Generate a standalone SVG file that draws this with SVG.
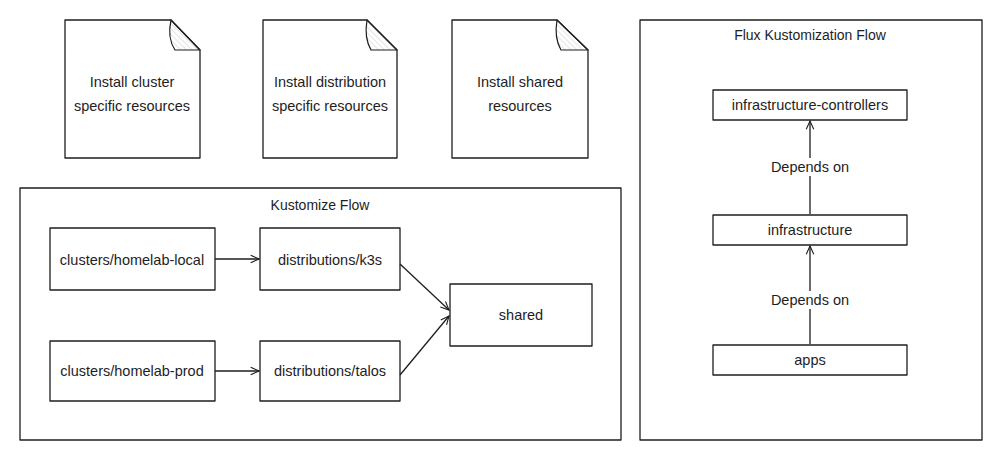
<svg xmlns="http://www.w3.org/2000/svg" width="1001" height="461" viewBox="0 0 1001 461">
<defs>
<pattern id="hatch" width="4" height="4" patternUnits="userSpaceOnUse" patternTransform="rotate(-45)">
<line x1="0" y1="0" x2="0" y2="4" stroke="#bbbbbb" stroke-width="0.8"/>
</pattern>
<marker id="arr" viewBox="0 0 12 12" refX="11" refY="6" markerWidth="10" markerHeight="10" orient="auto" markerUnits="userSpaceOnUse">
<path d="M1,1.5 L11,6 L1,10.5" fill="none" stroke="#1e1e1e" stroke-width="1.3"/>
</marker>
<style>
.s{fill:#ffffff;stroke:#1e1e1e;stroke-width:1.3;stroke-linejoin:round}
.f{fill:url(#hatch);stroke:#1e1e1e;stroke-width:1.2;stroke-linejoin:round}
.c{fill:none;stroke:#1e1e1e;stroke-width:1.3}
.t{font-family:"Liberation Sans",Arial,sans-serif;font-size:14.5px;fill:#1e1e1e;text-anchor:middle;dominant-baseline:central}
.h{font-size:14px}
</style>
</defs>
<rect width="1001" height="461" fill="#ffffff"/>
<g id="doc-cluster">
<path class="s" d="M65,20 L171,20 L200,50 L200,158 L65,158 Z"/>
<path class="f" d="M171,20 Q167,38 175,50 L200,50 Z"/>
<text class="t" x="132" y="82">Install cluster</text>
<text class="t" x="132" y="106">specific resources</text>
</g>
<g id="doc-distribution">
<path class="s" d="M263,20 L367,20 L397,50 L397,158 L263,158 Z"/>
<path class="f" d="M367,20 Q364,38 371,50 L397,50 Z"/>
<text class="t" x="330" y="82">Install distribution</text>
<text class="t" x="330" y="106">specific resources</text>
</g>
<g id="doc-shared">
<path class="s" d="M452,20 L557,20 L588,50 L588,158 L452,158 Z"/>
<path class="f" d="M557,20 Q554,38 561,50 L588,50 Z"/>
<text class="t" x="520" y="82">Install shared</text>
<text class="t" x="520" y="106">resources</text>
</g>
<g id="kustomize-flow">
<rect class="s" x="20" y="188" width="601" height="252"/>
<text class="t h" x="320" y="205">Kustomize Flow</text>
</g>
<g id="flux-flow">
<rect class="s" x="640" y="20" width="342" height="420"/>
<text class="t h" x="810" y="35">Flux Kustomization Flow</text>
</g>
<g id="clusters-homelab-local">
<rect class="s" x="50" y="228" width="165" height="62"/>
<text class="t" x="132" y="260">clusters/homelab-local</text>
</g>
<g id="distributions-k3s">
<rect class="s" x="260" y="228" width="140" height="62"/>
<text class="t" x="330" y="260">distributions/k3s</text>
</g>
<g id="shared">
<rect class="s" x="450" y="284" width="142" height="62"/>
<text class="t" x="521" y="315">shared</text>
</g>
<g id="clusters-homelab-prod">
<rect class="s" x="50" y="341" width="165" height="60"/>
<text class="t" x="132" y="371">clusters/homelab-prod</text>
</g>
<g id="distributions-talos">
<rect class="s" x="260" y="341" width="140" height="60"/>
<text class="t" x="330" y="371">distributions/talos</text>
</g>
<g id="infrastructure-controllers">
<rect class="s" x="713" y="90" width="194" height="30"/>
<text class="t" x="810" y="105">infrastructure-controllers</text>
</g>
<g id="infrastructure">
<rect class="s" x="713" y="215" width="194" height="30"/>
<text class="t" x="810" y="230">infrastructure</text>
</g>
<g id="apps">
<rect class="s" x="713" y="345" width="194" height="30"/>
<text class="t" x="810" y="360">apps</text>
</g>
<g id="connectors">
<path class="c" d="M215,259 L259,259" marker-end="url(#arr)"/>
<path class="c" d="M215,371 L259,371" marker-end="url(#arr)"/>
<path class="c" d="M400,264 L449,310" marker-end="url(#arr)"/>
<path class="c" d="M400,375 L449,316" marker-end="url(#arr)"/>
<path class="c" d="M810,214 L810,121" marker-end="url(#arr)"/>
<path class="c" d="M810,344 L810,246" marker-end="url(#arr)"/>
<rect x="766" y="158" width="88" height="18" fill="#ffffff"/>
<text class="t" x="810" y="167">Depends on</text>
<rect x="766" y="291" width="88" height="18" fill="#ffffff"/>
<text class="t" x="810" y="300">Depends on</text>
</g>
</svg>
